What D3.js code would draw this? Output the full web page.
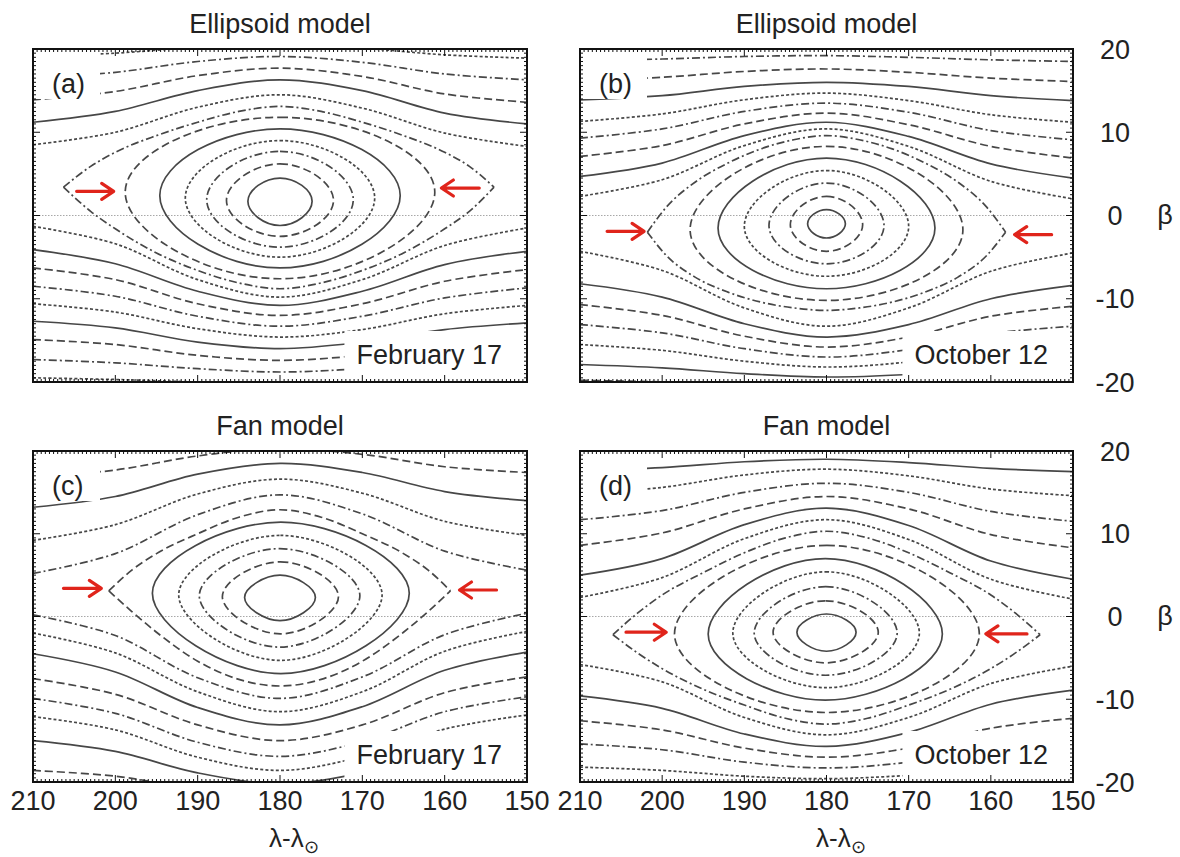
<!DOCTYPE html>
<html><head><meta charset="utf-8">
<script src="https://cdn.jsdelivr.net/npm/d3@7"></script>
<style>
body{margin:0;background:#fff}
svg{display:block}
text{font-family:"Liberation Sans",Arial,Helvetica,sans-serif;fill:#222}
</style>
</head><body>
<svg id="chart" width="1180" height="857"></svg>
<script>
// ---------- shared axis data ----------
const xTicks = [210, 200, 190, 180, 170, 160, 150];
const xTickLabels = ["210", "200", "190", "180", "170", "160", "150"];
const yTicks = [20, 10, 0, -10, -20];
const yTickLabels = ["20", "10", "0", "-10", "-20"];
const lamSamples = [210, 200, 190, 180, 170, 160, 150];

// ---------- panel (a): Ellipsoid model, February 17 ----------
// rings: [lambda left, lambda right, beta at left/right ends, beta top, beta bottom]
const ringsA = [
  [183.9, 176.1, 1.7, 4.5, -1.2],
  [186.5, 173.5, 1.8, 6.2, -2.5],
  [188.9, 171.1, 1.9, 7.7, -3.8],
  [191.5, 168.5, 2.1, 9.0, -5.0],
  [194.6, 165.4, 2.4, 10.4, -6.3],
  [198.8, 161.2, 2.8, 11.8, -7.6]
];
const sepUpA = [[206.3,3.4],[203,5.9],[200,7.6],[195,9.6],[190,11.2],[185,12.5],[180,13.1],[175,12.5],[170,11.2],[165,9.6],[160,7.6],[157,5.9],[154,3.4]];
const sepLoA = [[206.3,3.4],[203,0.5],[200,-1.6],[195,-4.5],[190,-6.6],[185,-8.1],[180,-8.8],[175,-8.1],[170,-6.6],[165,-4.5],[160,-1.6],[157,0.5],[154,3.4]];
const upA = [
  [8.5, 10.0, 13.0, 14.5, 12.9, 9.9, 8.3],
  [11.2, 12.5, 15.0, 16.3, 15.0, 12.3, 11.0],
  [13.9, 14.9, 16.8, 17.7, 16.7, 14.6, 13.6],
  [16.5, 17.2, 18.5, 19.1, 18.4, 17.0, 16.3],
  [19.1, 19.5, 20.2, 20.5, 20.1, 19.3, 18.9]
];
const loA = [
  [-1.3, -3.4, -7.7, -9.8, -7.7, -3.6, -1.5],
  [-4.1, -5.8, -9.1, -10.8, -9.1, -5.9, -4.3],
  [-6.3, -7.7, -10.6, -12.0, -10.6, -7.9, -6.5],
  [-8.5, -9.7, -12.1, -13.3, -12.1, -9.9, -8.7],
  [-10.6, -11.6, -13.6, -14.6, -13.7, -11.8, -10.8],
  [-12.7, -13.5, -15.2, -16.0, -15.2, -13.7, -12.9],
  [-14.9, -15.5, -16.8, -17.4, -16.8, -15.7, -15.1],
  [-17.3, -17.7, -18.4, -18.8, -18.4, -17.8, -17.4],
  [-19.5, -19.7, -20.0, -20.2, -20.0, -19.8, -19.6]
];
const arrowsA = [[204.7, 200.2, 2.9], [155.8, 160.4, 3.3]];

// ---------- panel (b): Ellipsoid model, October 12 ----------
const ringsB = [
  [182.3, 177.7, -1.0, 0.7, -2.7],
  [184.4, 175.6, -1.1, 2.3, -4.3],
  [187.0, 173.0, -1.2, 3.9, -5.8],
  [190.0, 170.0, -1.3, 5.4, -7.3],
  [193.2, 166.8, -1.5, 6.9, -8.8],
  [196.6, 163.4, -1.7, 8.3, -10.2]
];
const sepUpB = [[201.8,-2.0],[199.5,1.0],[196,4.0],[192,6.3],[188,8.0],[184,9.1],[180,9.6],[176,9.1],[172,8.0],[168,6.3],[164,4.0],[160.5,1.0],[158.2,-2.0]];
const sepLoB = [[201.8,-2.0],[199.5,-4.8],[196,-7.4],[192,-9.2],[188,-10.4],[184,-11.1],[180,-11.4],[176,-11.1],[172,-10.4],[168,-9.2],[164,-7.4],[160.5,-4.8],[158.2,-2.0]];
const upB = [
  [2.3, 4.3, 8.4, 10.4, 8.3, 4.1, 2.0],
  [4.7, 6.3, 9.6, 11.2, 9.5, 6.2, 4.5],
  [7.1, 8.4, 11.0, 12.3, 10.9, 8.3, 6.9],
  [9.3, 10.4, 12.5, 13.5, 12.4, 10.2, 9.1],
  [11.3, 12.2, 13.9, 14.7, 13.8, 12.1, 11.2],
  [13.9, 14.4, 15.5, 16.0, 15.5, 14.4, 13.8],
  [16.2, 16.6, 17.3, 17.6, 17.2, 16.5, 16.1],
  [18.6, 18.8, 19.1, 19.2, 19.0, 18.7, 18.5]
];
const loB = [
  [-4.3, -6.6, -11.1, -13.3, -11.1, -6.7, -4.5],
  [-8.2, -9.8, -13.0, -14.6, -13.1, -10.0, -8.4],
  [-10.7, -12.0, -14.5, -15.8, -14.6, -12.1, -10.9],
  [-13.1, -14.1, -16.0, -17.0, -16.1, -14.2, -13.3],
  [-15.5, -16.2, -17.5, -18.2, -17.6, -16.3, -15.7],
  [-17.9, -18.3, -19.0, -19.4, -19.1, -18.4, -18.0],
  [-19.8, -20.0, -20.4, -20.6, -20.4, -20.1, -19.9]
];
const arrowsB = [[206.7, 202.2, -1.9], [152.6, 157.1, -2.3]];

// ---------- panel (c): Fan model, February 17 ----------
const ringsC = [
  [184.3, 175.7, 2.3, 5.0, -0.5],
  [187.0, 172.9, 2.4, 6.6, -2.1],
  [189.8, 170.3, 2.5, 8.2, -3.7],
  [192.3, 167.6, 2.6, 9.8, -5.3],
  [195.5, 164.3, 2.8, 11.4, -6.9]
];
const sepUpC = [[200.8,3.1],[198,5.6],[195,7.6],[190,10.0],[185,12.0],[180,12.9],[175,12.0],[170,10.0],[165,7.6],[162,5.6],[159.3,3.1]];
const sepLoC = [[200.8,3.1],[198,0.6],[195,-1.9],[190,-5.4],[185,-7.6],[180,-8.4],[175,-7.6],[170,-5.4],[165,-1.9],[162,0.6],[159.3,3.1]];
const upC = [
  [5.2, 7.6, 12.3, 14.7, 12.4, 7.9, 5.6],
  [9.2, 11.1, 14.8, 16.6, 14.9, 11.5, 9.8],
  [13.2, 14.5, 17.2, 18.5, 17.4, 15.1, 14.0],
  [16.8, 17.7, 19.4, 20.3, 19.6, 18.1, 17.4]
];
const loC = [
  [0.2, -2.3, -7.4, -9.9, -7.3, -2.2, 0.4],
  [-2.0, -4.4, -9.1, -11.5, -9.1, -4.2, -1.8],
  [-4.5, -6.7, -11.0, -13.1, -10.9, -6.5, -4.3],
  [-7.5, -9.4, -13.1, -15.0, -13.1, -9.2, -7.3],
  [-9.9, -11.7, -15.2, -16.9, -15.1, -11.5, -9.7],
  [-12.1, -13.7, -17.0, -18.6, -16.9, -13.6, -11.9],
  [-15.0, -16.3, -18.9, -20.2, -18.9, -16.2, -14.8],
  [-18.6, -19.3, -20.8, -21.5, -20.7, -19.2, -18.4]
];
const arrowsC = [[206.3, 201.7, 3.4], [153.7, 158.2, 3.2]];

// ---------- panel (d): Fan model, October 12 ----------
const ringsD = [
  [183.6, 176.4, -1.9, 0.3, -4.2],
  [186.5, 173.7, -1.9, 1.9, -5.6],
  [188.8, 171.4, -2.0, 3.6, -7.1],
  [191.4, 168.7, -2.0, 5.4, -8.6],
  [194.4, 165.9, -2.1, 7.0, -10.1],
  [198.5, 161.4, -2.1, 8.6, -11.6]
];
const sepUpD = [[206.0,-2.2],[203,0.4],[200,2.6],[195,5.3],[190,7.7],[185,9.5],[180,10.3],[175,9.5],[170,7.7],[165,5.3],[160,2.6],[157,0.4],[154,-2.2]];
const sepLoD = [[206.0,-2.2],[203,-4.4],[200,-6.3],[195,-8.8],[190,-10.7],[185,-12.3],[180,-13.0],[175,-12.3],[170,-10.7],[165,-8.8],[160,-6.3],[157,-4.4],[154,-2.2]];
const upD = [
  [2.3, 4.7, 9.4, 11.7, 9.3, 4.5, 2.1],
  [5.0, 7.0, 11.1, 13.1, 11.0, 6.7, 4.5],
  [8.6, 10.1, 13.0, 14.5, 13.0, 9.9, 8.3],
  [11.7, 12.8, 15.0, 16.1, 15.0, 12.7, 11.5],
  [14.8, 15.6, 17.1, 17.8, 17.0, 15.4, 14.6],
  [17.7, 18.0, 18.7, 19.0, 18.6, 17.9, 17.5]
];
const loD = [
  [-5.8, -7.9, -12.2, -14.3, -12.2, -8.1, -6.0],
  [-9.6, -11.1, -14.2, -15.7, -14.0, -10.6, -8.9],
  [-12.6, -13.7, -15.9, -17.0, -15.9, -13.5, -12.3],
  [-15.4, -16.1, -17.6, -18.3, -17.6, -16.0, -15.2],
  [-18.2, -18.6, -19.3, -19.6, -19.2, -18.5, -18.1]
];
const arrowsD = [[204.4, 199.5, -1.9], [155.6, 160.6, -2.1]];

const titles = ["Ellipsoid model", "Ellipsoid model", "Fan model", "Fan model"];
const panelLabels = ["(a)", "(b)", "(c)", "(d)"];
const dates = ["February 17", "October 12", "February 17", "October 12"];

// ---------- layout (positions / styles) ----------
const layout = [
  {x0: 33, x1: 527, y0: 49, y1: 382, tension: -0.45, right: false, bottom: false},
  {x0: 580, x1: 1073, y0: 49, y1: 382, tension: -0.45, right: true, bottom: false},
  {x0: 33, x1: 527, y0: 451, y1: 782, tension: -0.3, right: false, bottom: true},
  {x0: 580, x1: 1073, y0: 451, y1: 782, tension: -0.35, right: true, bottom: true}
];
const panelData = [
  {rings: ringsA, sepUp: sepUpA, sepLo: sepLoA, up: upA, lo: loA, arrows: arrowsA},
  {rings: ringsB, sepUp: sepUpB, sepLo: sepLoB, up: upB, lo: loB, arrows: arrowsB},
  {rings: ringsC, sepUp: sepUpC, sepLo: sepLoC, up: upC, lo: loC, arrows: arrowsC},
  {rings: ringsD, sepUp: sepUpD, sepLo: sepLoD, up: upD, lo: loD, arrows: arrowsD}
];

const DASH = [null, "8,4", "8,3,2,3", "3,2.2"];
const LINE_COLOR = "#474747";
const svg = d3.select("#chart");
const defs = svg.append("defs");

layout.forEach((L, pi) => {
  const P = panelData[pi];
  const x = d3.scaleLinear().domain([210, 150]).range([L.x0, L.x1]);
  const y = d3.scaleLinear().domain([20, -20]).range([L.y0, L.y1]);
  const g = svg.append("g");

  defs.append("clipPath").attr("id", "clip" + pi)
    .append("rect").attr("x", L.x0).attr("y", L.y0)
    .attr("width", L.x1 - L.x0).attr("height", L.y1 - L.y0);
  const cg = g.append("g").attr("clip-path", `url(#clip${pi})`);

  // zero latitude reference line
  cg.append("line")
    .attr("x1", L.x0).attr("x2", L.x1).attr("y1", y(0)).attr("y2", y(0))
    .attr("stroke", "#a8a8a8").attr("stroke-width", 1).attr("stroke-dasharray", "1.5,1.5");

  const draw = (pts, idx, curve) => {
    cg.append("path")
      .attr("d", d3.line().x(d => x(d[0])).y(d => y(d[1])).curve(curve)(pts))
      .attr("fill", "none").attr("stroke", LINE_COLOR).attr("stroke-width", 1.7)
      .attr("stroke-dasharray", DASH[idx % 4]);
  };

  const nR = P.rings.length;
  P.rings.forEach((r, i) => {
    const c = (r[0] + r[1]) / 2;
    draw([[r[0], r[2]], [c, r[3]], [r[1], r[2]], [c, r[4]]], i, d3.curveCardinalClosed.tension(L.tension));
  });
  draw(P.sepUp, nR, d3.curveMonotoneX);
  draw(P.sepLo, nR, d3.curveMonotoneX);
  P.up.forEach((v, j) => draw(lamSamples.map((l, k) => [l, v[k]]), nR + 1 + j, d3.curveCatmullRom.alpha(0.5)));
  P.lo.forEach((v, j) => draw(lamSamples.map((l, k) => [l, v[k]]), nR + 1 + j, d3.curveCatmullRom.alpha(0.5)));

  // red arrows
  P.arrows.forEach(a => {
    const xs = x(a[0]), xe = x(a[1]), yy = y(a[2]);
    const dir = Math.sign(xe - xs);
    g.append("path")
      .attr("d", `M${xs},${yy}H${xe - dir * 1}M${xe - dir * 12},${yy - 8}L${xe},${yy}L${xe - dir * 12},${yy + 8}`)
      .attr("fill", "none").attr("stroke", "#e0241b").attr("stroke-width", 3.2)
      .attr("stroke-linecap", "round").attr("stroke-linejoin", "round");
  });

  // panel label with white box
  g.append("rect").attr("x", L.x0 + 1).attr("y", L.y0 + 1).attr("width", 66).attr("height", 49).attr("fill", "#fff");
  g.append("text").attr("x", L.x0 + 19).attr("y", L.y0 + 44).attr("font-size", 27).text(panelLabels[pi]);

  // date label with white box
  const dt = g.append("text").attr("x", L.x1 - 25).attr("y", L.y1 - 18)
    .attr("text-anchor", "end").attr("font-size", 27).text(dates[pi]);
  const w = dt.node().getComputedTextLength();
  g.insert("rect", () => dt.node())
    .attr("x", L.x1 - 25 - w - 12).attr("y", L.y1 - 51)
    .attr("width", w + 36).attr("height", 50).attr("fill", "#fff");

  // title
  svg.append("text").attr("x", (L.x0 + L.x1) / 2).attr("y", L.y0 - 16)
    .attr("text-anchor", "middle").attr("font-size", 27).text(titles[pi]);

  // frame and inward ticks
  const tk = g.append("g").attr("stroke", "#111").attr("stroke-width", 1);
  for (let k = 0; k <= 120; k++) {
    const l = 150 + k * 0.5;
    const len = (k % 20 === 0) ? 7 : 3;
    tk.append("line").attr("x1", x(l)).attr("x2", x(l)).attr("y1", L.y0).attr("y2", L.y0 + len);
    tk.append("line").attr("x1", x(l)).attr("x2", x(l)).attr("y1", L.y1).attr("y2", L.y1 - len);
  }
  for (let k = 0; k <= 80; k++) {
    const b = -20 + k * 0.5;
    const len = (k % 20 === 0) ? 7 : 3;
    tk.append("line").attr("x1", L.x0).attr("x2", L.x0 + len).attr("y1", y(b)).attr("y2", y(b));
    tk.append("line").attr("x1", L.x1).attr("x2", L.x1 - len).attr("y1", y(b)).attr("y2", y(b));
  }
  g.append("rect").attr("x", L.x0).attr("y", L.y0).attr("width", L.x1 - L.x0).attr("height", L.y1 - L.y0)
    .attr("fill", "none").attr("stroke", "#111").attr("stroke-width", 2);

  if (L.right) {
    yTicks.forEach((t, i) => {
      svg.append("text").attr("x", 1115).attr("y", y(t) + 9.5)
        .attr("text-anchor", "middle").attr("font-size", 27).text(yTickLabels[i]);
    });
    svg.append("text").attr("x", 1165).attr("y", y(0) + 8)
      .attr("text-anchor", "middle").attr("font-size", 27).text("β");
  }
  if (L.bottom) {
    xTicks.forEach((t, i) => {
      svg.append("text").attr("x", x(t)).attr("y", L.y1 + 28)
        .attr("text-anchor", "middle").attr("font-size", 27).text(xTickLabels[i]);
    });
    const lab = svg.append("text").attr("x", L.x0 + 236).attr("y", L.y1 + 65).attr("font-size", 26);
    lab.append("tspan").text("λ-λ");
    lab.append("tspan").attr("font-size", 18).attr("dy", 6).text("⊙");
  }
});
</script>
</body></html>
